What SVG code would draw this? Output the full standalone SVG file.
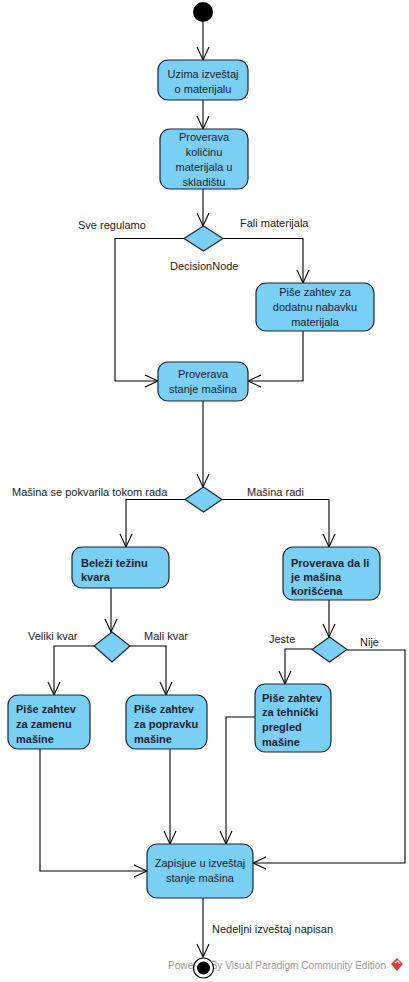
<svg xmlns="http://www.w3.org/2000/svg" width="409" height="982" viewBox="0 0 409 982">
<style>
.node{fill:#7acff5;stroke:#1b2733;stroke-width:1.2}
.dec{fill:#7acff5;stroke:#1b2733;stroke-width:1.2}
.c{fill:none;stroke:#000;stroke-width:1.1;marker-end:url(#arr)}
text{font-family:"Liberation Sans",Arial,sans-serif;font-size:11px;fill:#1c2230}
.ctr{text-anchor:middle}
.b{font-weight:bold}
.lbl{fill:#222}
.wm{fill:#9a9a9a}
</style>
<defs>
<marker id="arr" markerUnits="userSpaceOnUse" markerWidth="16" markerHeight="16" viewBox="-14 -8 16 16" refX="0" refY="0" orient="auto">
<path d="M-13,-6 L0,0 L-13,6" fill="none" stroke="#000" stroke-width="1.1"/>
</marker>
</defs>
<rect width="409" height="982" fill="#fff"/>
<g id="watermark">
<text class="wm" x="168" y="969" textLength="218" lengthAdjust="spacingAndGlyphs">Powered By  Visual Paradigm Community Edition</text>
<path d="M397,958 L403,964 L397,971 L391,964 Z" fill="#d9413a"/>
<path d="M395,963 L398,961 L400,964" fill="none" stroke="#fff" stroke-width="1.2"/>
</g>
<g id="connectors">
<path class="c" d="M203,22 L203,60"/>
<path class="c" d="M203,100 L203,129"/>
<path class="c" d="M203,189 L203,226"/>
<path class="c" d="M184,238.5 L115,238.5 L115,381 L158,381"/>
<path class="c" d="M223,238.5 L303,238.5 L303,283"/>
<path class="c" d="M303,331 L303,381 L248,381"/>
<path class="c" d="M203,401 L203,487"/>
<path class="c" d="M185,499.5 L126,499.5 L126,547"/>
<path class="c" d="M222,499.5 L329,499.5 L329,547"/>
<path class="c" d="M111,588 L111,632"/>
<path class="c" d="M94,646 L54,646 L54,695"/>
<path class="c" d="M130,646 L166,646 L166,695"/>
<path class="c" d="M329,600 L329,637"/>
<path class="c" d="M312,649 L285,649 L285,684"/>
<path class="c" d="M347,650 L405,650 L405,863 L253,863"/>
<path class="c" d="M255,717 L226,717 L226,844"/>
<path class="c" d="M40,749 L40,871 L147,871"/>
<path class="c" d="M170,749 L170,844"/>
<path class="c" d="M203,898 L203,957"/>
<text class="lbl" x="78" y="229">Sve regulamo</text>
<text class="lbl" x="240" y="227">Fali materijala</text>
<text class="lbl" x="12" y="496">Mašina se pokvarila tokom rada</text>
<text class="lbl" x="247" y="496">Mašina radi</text>
<text class="lbl" x="28" y="640">Veliki kvar</text>
<text class="lbl" x="144" y="640">Mali kvar</text>
<text class="lbl" x="269" y="643">Jeste</text>
<text class="lbl" x="360" y="646">Nije</text>
<text class="lbl" x="212" y="933">Nedeljni izveštaj napisan</text>
</g>
<g id="start">
<circle cx="203" cy="12" r="10" fill="#000"/>
</g>
<g id="n1">
<rect class="node" x="158" y="60" width="90" height="40" rx="10"/>
<text class="ctr" x="203" y="78">Uzima izveštaj</text>
<text class="ctr" x="203" y="93">o materijalu</text>
</g>
<g id="n2">
<rect class="node" x="160" y="129" width="88" height="60" rx="10"/>
<text class="ctr" x="204" y="141">Proverava</text>
<text class="ctr" x="204" y="156">količinu</text>
<text class="ctr" x="204" y="171">materijala u</text>
<text class="ctr" x="204" y="186">skladištu</text>
</g>
<g id="d1">
<path class="dec" d="M203.5,226 L223,238.5 L203.5,251 L184,238.5 Z"/>
<text class="lbl" x="170" y="270">DecisionNode</text>
</g>
<g id="n4">
<rect class="node" x="256" y="283" width="118" height="48" rx="10"/>
<text class="ctr" x="315" y="296">Piše zahtev za</text>
<text class="ctr" x="315" y="311">dodatnu nabavku</text>
<text class="ctr" x="315" y="326">materijala</text>
</g>
<g id="n3">
<rect class="node" x="158" y="362" width="90" height="39" rx="10"/>
<text class="ctr" x="203" y="378">Proverava</text>
<text class="ctr" x="203" y="393">stanje mašina</text>
</g>
<g id="d2">
<path class="dec" d="M203.5,487 L222,499.5 L203.5,512 L185,499.5 Z"/>
</g>
<g id="n5">
<rect class="node" x="72" y="547" width="97" height="41" rx="10"/>
<text class="b" x="81" y="567">Beleži težinu</text>
<text class="b" x="81" y="581">kvara</text>
</g>
<g id="n6">
<rect class="node" x="283" y="547" width="97" height="53" rx="10"/>
<text class="b" x="291" y="567">Proverava da li</text>
<text class="b" x="291" y="581">je mašina</text>
<text class="b" x="291" y="595">korišćena</text>
</g>
<g id="d3">
<path class="dec" d="M112,632 L130,646 L112,662 L94,646 Z"/>
</g>
<g id="d4">
<path class="dec" d="M329.5,637 L347,649.5 L329.5,662 L312,649.5 Z"/>
</g>
<g id="n7">
<rect class="node" x="8" y="695" width="82" height="54" rx="10"/>
<text class="b" x="16" y="713">Piše zahtev</text>
<text class="b" x="16" y="728">za zamenu</text>
<text class="b" x="16" y="743">mašine</text>
</g>
<g id="n8">
<rect class="node" x="126" y="695" width="81" height="54" rx="10"/>
<text class="b" x="134" y="713">Piše zahtev</text>
<text class="b" x="134" y="728">za popravku</text>
<text class="b" x="134" y="743">mašine</text>
</g>
<g id="n9">
<rect class="node" x="255" y="684" width="76" height="68" rx="10"/>
<text class="b" x="262" y="702">Piše zahtev</text>
<text class="b" x="262" y="716">za tehnički</text>
<text class="b" x="262" y="731">pregled</text>
<text class="b" x="262" y="746">mašine</text>
</g>
<g id="n10">
<rect class="node" x="147" y="844" width="106" height="54" rx="10"/>
<text class="ctr" x="200" y="867">Zapisjue u izveštaj</text>
<text class="ctr" x="200" y="882">stanje mašina</text>
</g>
<g id="end">
<circle cx="203.5" cy="968" r="10" fill="#fff" stroke="#000" stroke-width="1.2"/>
<circle cx="203.5" cy="968" r="6.5" fill="#000"/>
</g>
</svg>
